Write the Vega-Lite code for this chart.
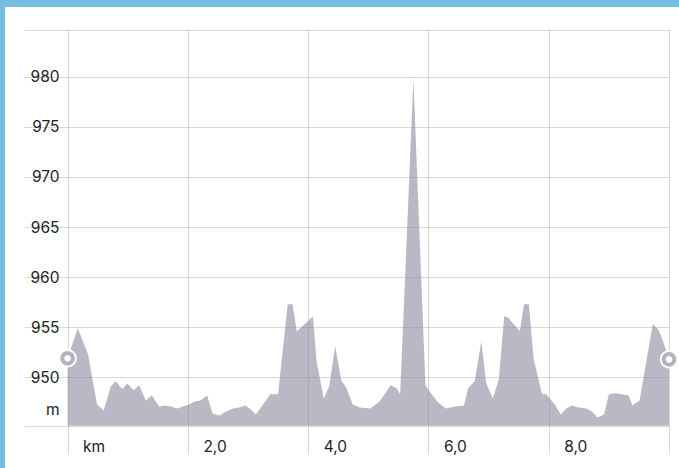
{
  "$schema": "https://vega.github.io/schema/vega-lite/v6.json",
  "width": 642,
  "height": 425,
  "autosize": {"type": "none"},
  "padding": {"left": 27, "top": 29, "right": 10, "bottom": 14},
  "background": "#74bfdf",
  "config": {
    "view": {"fill": "white", "stroke": "white", "strokeWidth": 44},
    "axis": {
      "labelFont": "Inter",
      "labelFontSize": 15.5,
      "labelColor": "#222222",
      "gridColor": "#000000",
      "gridOpacity": 0.15,
      "gridWidth": 1,
      "domain": false,
      "title": null,
      "labelFlush": false,
      "labelOverlap": false
    }
  },
  "data": {
    "values": [
      {"km": 0.00, "elev": 951.9}, {"km": 0.17, "elev": 954.9}, {"km": 0.34, "elev": 952.3},
      {"km": 0.42, "elev": 949.6}, {"km": 0.49, "elev": 947.3}, {"km": 0.60, "elev": 946.7},
      {"km": 0.72, "elev": 949.1}, {"km": 0.80, "elev": 949.6}, {"km": 0.91, "elev": 948.8},
      {"km": 0.99, "elev": 949.4}, {"km": 1.10, "elev": 948.7}, {"km": 1.19, "elev": 949.2},
      {"km": 1.30, "elev": 947.7}, {"km": 1.40, "elev": 948.2}, {"km": 1.52, "elev": 947.1},
      {"km": 1.62, "elev": 947.2}, {"km": 1.72, "elev": 947.1}, {"km": 1.82, "elev": 946.9},
      {"km": 1.92, "elev": 947.1}, {"km": 2.02, "elev": 947.3}, {"km": 2.11, "elev": 947.6},
      {"km": 2.21, "elev": 947.7}, {"km": 2.32, "elev": 948.2}, {"km": 2.41, "elev": 946.4},
      {"km": 2.53, "elev": 946.2}, {"km": 2.63, "elev": 946.6}, {"km": 2.75, "elev": 946.9},
      {"km": 2.85, "elev": 947.0}, {"km": 2.96, "elev": 947.2}, {"km": 3.03, "elev": 946.9},
      {"km": 3.13, "elev": 946.3}, {"km": 3.25, "elev": 947.3}, {"km": 3.37, "elev": 948.3},
      {"km": 3.50, "elev": 948.3}, {"km": 3.66, "elev": 957.3}, {"km": 3.74, "elev": 957.3},
      {"km": 3.81, "elev": 954.6}, {"km": 3.96, "elev": 955.4}, {"km": 4.08, "elev": 956.1},
      {"km": 4.14, "elev": 951.6}, {"km": 4.26, "elev": 947.9}, {"km": 4.35, "elev": 949.1},
      {"km": 4.45, "elev": 953.1}, {"km": 4.55, "elev": 949.7}, {"km": 4.64, "elev": 948.9},
      {"km": 4.74, "elev": 947.3}, {"km": 4.86, "elev": 947.0}, {"km": 5.03, "elev": 946.9},
      {"km": 5.19, "elev": 947.6}, {"km": 5.37, "elev": 949.2}, {"km": 5.47, "elev": 948.9},
      {"km": 5.53, "elev": 948.3}, {"km": 5.75, "elev": 979.8}, {"km": 5.95, "elev": 949.2},
      {"km": 6.03, "elev": 948.5}, {"km": 6.16, "elev": 947.5}, {"km": 6.29, "elev": 946.9},
      {"km": 6.44, "elev": 947.1}, {"km": 6.59, "elev": 947.2}, {"km": 6.66, "elev": 948.9},
      {"km": 6.77, "elev": 949.6}, {"km": 6.88, "elev": 953.6}, {"km": 6.96, "elev": 949.4},
      {"km": 7.07, "elev": 947.9}, {"km": 7.17, "elev": 949.8}, {"km": 7.26, "elev": 956.1},
      {"km": 7.32, "elev": 956.0}, {"km": 7.52, "elev": 954.6}, {"km": 7.59, "elev": 957.3},
      {"km": 7.67, "elev": 957.3}, {"km": 7.75, "elev": 951.8}, {"km": 7.89, "elev": 948.3},
      {"km": 7.96, "elev": 948.3}, {"km": 8.10, "elev": 947.3}, {"km": 8.20, "elev": 946.3},
      {"km": 8.29, "elev": 946.9}, {"km": 8.38, "elev": 947.2}, {"km": 8.50, "elev": 947.0},
      {"km": 8.62, "elev": 946.9}, {"km": 8.72, "elev": 946.6}, {"km": 8.81, "elev": 946.0},
      {"km": 8.92, "elev": 946.3}, {"km": 9.00, "elev": 948.3}, {"km": 9.11, "elev": 948.4},
      {"km": 9.22, "elev": 948.3}, {"km": 9.33, "elev": 948.2}, {"km": 9.39, "elev": 947.2},
      {"km": 9.51, "elev": 947.7}, {"km": 9.73, "elev": 955.3}, {"km": 9.82, "elev": 954.8},
      {"km": 9.89, "elev": 953.8}, {"km": 10.00, "elev": 951.8}
    ]
  },
  "layer": [
    {
      "mark": {"type": "area", "color": "#8a889e", "fillOpacity": 0.6, "interpolate": "linear"},
      "encoding": {
        "x": {
          "field": "km",
          "type": "quantitative",
          "scale": {"domain": [-0.675, 10], "nice": false, "zero": false},
          "axis": {
            "values": [0, 2, 4, 6, 8, 10],
            "grid": true,
            "ticks": false,
            "labelAlign": "left",
            "labelBaseline": "middle",
            "labelPadding": -8,
            "labelOffset": 15,
            "labelExpr": "datum.value == 0 ? 'km' : (datum.value == 10 ? '' : replace(format(datum.value, '.1f'), '.', ','))"
          }
        },
        "y": {
          "field": "elev",
          "type": "quantitative",
          "scale": {"domain": [942.35, 984.76], "nice": false, "zero": false},
          "axis": {
            "values": [945.17, 950, 955, 960, 965, 970, 975, 980, 984.7],
            "grid": true,
            "ticks": true,
            "tickSize": 3,
            "tickColor": "#000000",
            "tickOpacity": 0.15,
            "labelPadding": -35,
            "labelAlign": "right",
            "labelBaseline": "middle",
            "labelOffset": {"condition": {"test": "datum.value < 946", "value": -16}, "value": 0},
            "labelExpr": "datum.value < 946 ? 'm' : (datum.value > 981 ? '' : format(datum.value, 'd'))"
          }
        },
        "y2": {"datum": 945.17}
      }
    },
    {
      "transform": [{"filter": "datum.km == 0 || datum.km == 10"}],
      "mark": {"type": "point", "filled": true, "color": "#ffffff", "opacity": 1, "size": 340},
      "encoding": {
        "x": {"field": "km", "type": "quantitative"},
        "y": {"field": "elev", "type": "quantitative"}
      }
    },
    {
      "transform": [{"filter": "datum.km == 0 || datum.km == 10"}],
      "mark": {"type": "point", "filled": false, "fill": "#ffffff", "stroke": "#b3b2c0", "strokeWidth": 4, "opacity": 1, "size": 115},
      "encoding": {
        "x": {"field": "km", "type": "quantitative"},
        "y": {"field": "elev", "type": "quantitative"}
      }
    }
  ]
}
